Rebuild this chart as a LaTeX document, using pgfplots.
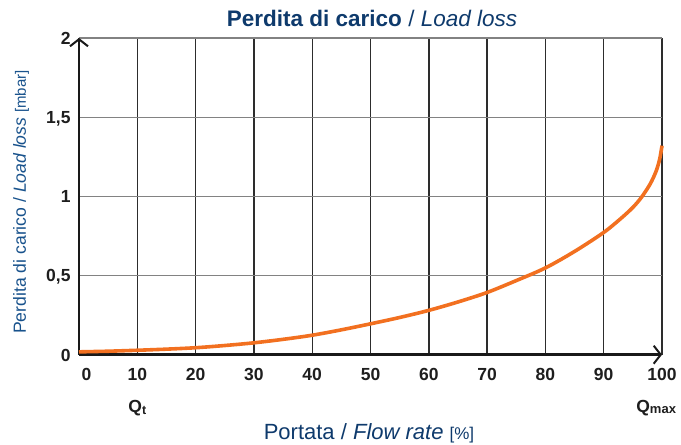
\documentclass[border=0pt]{standalone}
\usepackage{fontspec}
\setmainfont{Liberation Sans}
\usepackage{pgfplots}
\pgfplotsset{compat=1.18}
\usetikzlibrary{arrows.meta}
\definecolor{titleblue}{RGB}{14,58,108}
\definecolor{labelblue}{RGB}{24,82,140}
\definecolor{curvecol}{RGB}{242,112,32}
\definecolor{vgrid}{RGB}{45,45,45}
\definecolor{hgrid}{RGB}{130,130,130}
\definecolor{ticktext}{RGB}{30,30,30}
\pgfplotstableread{
x y
0 0.018
5 0.022
10 0.028
15 0.035
20 0.044
25 0.058
30 0.075
35 0.097
40 0.123
45 0.157
50 0.195
55 0.235
60 0.280
65 0.333
70 0.393
75 0.468
80 0.548
85 0.652
90 0.772
93 0.862
95 0.930
96.5 0.995
98 1.080
99 1.160
99.6 1.235
100 1.320
}\losstable
\begin{document}
\begin{tikzpicture}
\useasboundingbox (-79bp,-90.3bp) rectangle (602bp,354.7bp);
\begin{axis}[
  at={(0,0)}, anchor=south west,
  scale only axis,
  width=583bp, height=316.7bp,
  xmin=0, xmax=100, ymin=0, ymax=2,
  enlargelimits=false,
  axis lines=left,
  axis line style={line width=2.4bp, black!90, -{Straight Barb[length=7bp,width=18bp,line width=2bp]}},
  xtick={0,10,...,100},
  ytick={0,0.5,1,1.5,2},
  xticklabels={{\hspace*{15bp}0},10,20,30,40,50,60,70,80,90,100},
  yticklabels={0,{0,5},1,{1,5},2},
  major tick length=0pt,
  grid=major,
  major x grid style={vgrid, line width=1.4bp},
  major y grid style={hgrid, line width=1.3bp},
  ticklabel style={font=\fontsize{17.5bp}{17.5bp}\selectfont\bfseries, text=ticktext, inner sep=0pt},
  xticklabel style={anchor=base, yshift=-25.8bp},
  yticklabel style={anchor=base east, xshift=-8.3bp, yshift=-6.3bp},
  clip=false,
]
\addplot[curvecol, line width=3.6bp, smooth, tension=0.5] table[x=x, y=y] {\losstable};
\node[anchor=base, inner sep=0pt, text=ticktext, font=\fontsize{17.5bp}{17.5bp}\selectfont\bfseries] at (axis cs:10,0) [yshift=-57.3bp] {Q\raisebox{-2bp}{\fontsize{12.5bp}{12.5bp}\selectfont t}};
\node[anchor=base, inner sep=0pt, text=ticktext, font=\fontsize{17.5bp}{17.5bp}\selectfont\bfseries] at (axis cs:99,0) [yshift=-57.3bp] {Q\raisebox{-1bp}{\fontsize{13bp}{13bp}\selectfont max}};
\end{axis}
\node[anchor=base, inner sep=0pt, text=titleblue, font=\fontsize{22.5bp}{22.5bp}\selectfont] at (293bp,328bp) {\textbf{Perdita di carico} / \textit{Load loss}};
\node[anchor=base, inner sep=0pt, text=titleblue, font=\fontsize{22bp}{22bp}\selectfont] at (290bp,-84.3bp) {Portata / \textit{Flow rate} {\fontsize{17bp}{17bp}\selectfont[\%]}};
\node[anchor=base, inner sep=0pt, rotate=90, text=labelblue, font=\fontsize{17.6bp}{17.6bp}\selectfont] at (-53bp,152.7bp) {Perdita di carico / \textit{Load loss} {\fontsize{15bp}{15bp}\selectfont[mbar]}};
\end{tikzpicture}
\end{document}
